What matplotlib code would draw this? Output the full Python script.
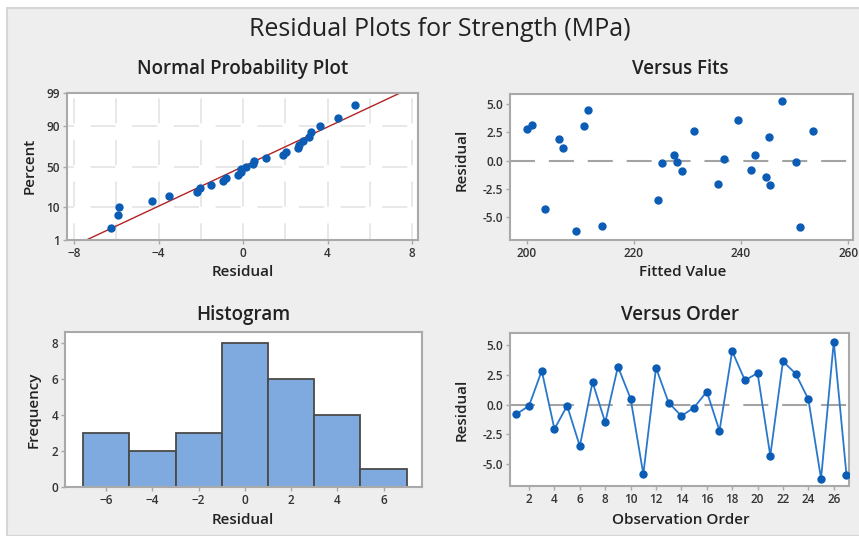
import numpy as np
import matplotlib
matplotlib.use("Agg")
import matplotlib.pyplot as plt
from matplotlib.patches import Rectangle
from statistics import NormalDist

plt.rcParams['font.family'] = ['Open Sans', 'DejaVu Sans']
plt.rcParams['lines.scale_dashes'] = False

# Residuals in observation order, and their fitted values
order = np.arange(1, 28)
residuals = np.array([-0.8, -0.1, 2.85, -2.05, -0.1, -3.5, 1.9, -1.5, 3.2, 0.5,
                      -5.85, 3.1, 0.15, -0.95, -0.25, 1.1, -2.2, 4.5, 2.05, 2.65,
                      -4.3, 3.65, 2.6, 0.45, -6.25, 5.3, -5.9])
fitted = np.array([241.8, 250.2, 200.0, 235.8, 228.1, 224.5, 206.0, 244.7, 201.0, 242.7,
                   214.0, 210.7, 236.8, 229.0, 225.3, 206.8, 245.5, 211.5, 245.2, 231.2,
                   203.5, 239.4, 253.5, 227.5, 209.3, 247.6, 251.0])

prob_ticks = [1, 10, 50, 90, 99]
hist_bins = np.arange(-7, 8, 2)

W, H = 859, 536
fig = plt.figure(figsize=(W / 100, H / 100), dpi=100, facecolor='white')
fig.patches.append(Rectangle((7 / W, 0), 1, 1 - 8 / H, transform=fig.transFigure,
                             facecolor='#eeeeee', edgecolor='#d6d6d6', lw=1.5, zorder=-10))

def box(l, t, r, b):
    return [l / W, 1 - b / H, (r - l) / W, (b - t) / H]

blue = '#0b5cb5'
spine_c = '#a9a9a9'
tick_c = '#333333'

def style(ax):
    for s in ax.spines.values():
        s.set_color(spine_c)
        s.set_linewidth(1.5)
    ax.tick_params(direction='out', length=3, width=1, color=spine_c,
                   labelsize=8.5, labelcolor=tick_c, pad=2)
    for lab in ax.get_xticklabels() + ax.get_yticklabels():
        lab.set_fontweight('semibold')

def label(x, y, s, size=11, rot=0, weight='semibold'):
    fig.text(x / W, 1 - y / H, s, ha='center', va='center', fontsize=size,
             rotation=rot, fontweight=weight, color='#222222')

nd = NormalDist()

# ---- Normal probability plot ----
ax1 = fig.add_axes(box(67, 93, 418, 240))
n = len(residuals)
sorted_r = np.sort(residuals)
pct = (np.arange(1, n + 1) - 0.3) / (n + 0.4)
z = np.array([nd.inv_cdf(p) for p in pct])
zlo, zhi = nd.inv_cdf(0.01), nd.inv_cdf(0.99)
mu, sd = residuals.mean(), residuals.std(ddof=1)
zz = np.linspace(zlo, zhi, 50)
for gx in np.arange(-8, 9, 2):
    ax1.axvline(gx, color='#e6e6e6', lw=1.3, ls=(6, (18, 12)), zorder=0)
for gp in prob_ticks[1:-1]:
    ax1.axhline(nd.inv_cdf(gp / 100), color='#e6e6e6', lw=1.3, ls=(13, (18, 12)), zorder=0)
ax1.plot(mu + sd * zz, zz, color='#b22222', lw=1.0, zorder=2)
ax1.plot(sorted_r, z, 'o', color=blue, ms=5, zorder=3)
ax1.set_xlim(-8.33, 8.28)
ax1.set_ylim(zlo, zhi)
ax1.set_xticks(np.arange(-8, 9, 4))
ax1.set_yticks([nd.inv_cdf(p / 100) for p in prob_ticks])
ax1.set_yticklabels([str(p) for p in prob_ticks])
style(ax1)

# ---- Versus fits ----
ax2 = fig.add_axes(box(510, 94, 853, 240))
ax2.axhline(0, color='#a3a3a3', lw=1.5, ls=(0, (18, 10)), zorder=1)
ax2.plot(fitted, residuals, 'o', color=blue, ms=5, zorder=3)
ax2.set_xlim(196.9, 260.9)
ax2.set_ylim(-7.07, 5.92)
ax2.set_xticks([200, 220, 240, 260])
ax2.set_yticks([-5, -2.5, 0, 2.5, 5])
ax2.set_yticklabels(['-5.0', '-2.5', '0.0', '2.5', '5.0'])
style(ax2)

# ---- Histogram ----
ax3 = fig.add_axes(box(65, 332, 422, 487))
ax3.hist(residuals, bins=hist_bins, color='#7faadf', edgecolor='#4a4a4a', lw=1.3)
ax3.set_xlim(-7.78, 7.66)
ax3.set_ylim(0, 8.63)
ax3.set_xticks(np.arange(-6, 7, 2))
ax3.set_yticks(np.arange(0, 9, 2))
style(ax3)

# ---- Versus order ----
ax4 = fig.add_axes(box(510, 333, 849, 486))
ax4.axhline(0, color='#a3a3a3', lw=1.5, ls=(0, (18, 10)), zorder=1)
ax4.plot(order, residuals, '-', color='#2a78cc', lw=1.3, zorder=2)
ax4.plot(order, residuals, 'o', color=blue, ms=5, zorder=3)
ax4.set_xlim(0.5, 27.2)
ax4.set_ylim(-6.85, 6.03)
ax4.set_xticks(np.arange(2, 27, 2))
ax4.set_yticks([-5, -2.5, 0, 2.5, 5])
ax4.set_yticklabels(['-5.0', '-2.5', '0.0', '2.5', '5.0'])
style(ax4)

# ---- Titles and labels ----
label(440, 30, 'Residual Plots for Strength (MPa)', size=18, weight='normal')
label(243, 69, 'Normal Probability Plot', size=13.5)
label(680, 69, 'Versus Fits', size=13.5)
label(243, 315, 'Histogram', size=13.5)
label(680, 315, 'Versus Order', size=13.5)
label(243, 272, 'Residual')
label(683, 272, 'Fitted Value')
label(243, 520, 'Residual')
label(681, 520, 'Observation Order')
label(30, 166, 'Percent', rot=90)
label(462, 160, 'Residual', rot=90)
label(34, 410, 'Frequency', rot=90)
label(462, 410, 'Residual', rot=90)

fig.savefig('out.png', dpi=100, facecolor=fig.get_facecolor())
